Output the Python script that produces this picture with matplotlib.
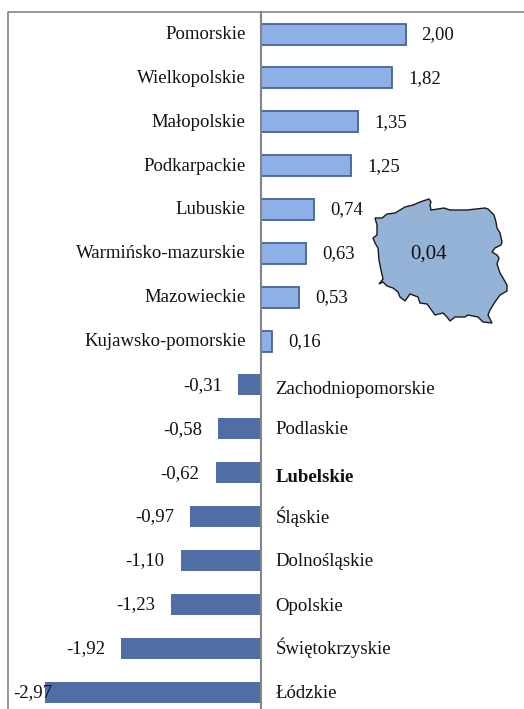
import matplotlib
matplotlib.use('Agg')
import matplotlib.pyplot as plt
from matplotlib.patches import Polygon

# Data
regions = ['Pomorskie', 'Wielkopolskie', 'Małopolskie', 'Podkarpackie', 'Lubuskie',
           'Warmińsko-mazurskie', 'Mazowieckie', 'Kujawsko-pomorskie', 'Zachodniopomorskie',
           'Podlaskie', 'Lubelskie', 'Śląskie', 'Dolnośląskie', 'Opolskie',
           'Świętokrzyskie', 'Łódzkie']
values = [2.00, 1.82, 1.35, 1.25, 0.74, 0.63, 0.53, 0.16, -0.31,
          -0.58, -0.62, -0.97, -1.10, -1.23, -1.92, -2.97]
bold_regions = ['Lubelskie']
poland_value = 0.04

# Outline of the map in pixels
map_x = [375, 382, 387, 395, 400, 405, 413, 420, 429, 431, 430, 431, 438, 444, 450, 467,
         485, 488, 494, 496, 497, 500, 502, 501, 495, 492, 497, 499, 497, 500, 503, 507,
         507, 500, 495, 490, 488, 492, 483, 478, 468, 465, 455, 450, 447, 443, 435, 430,
         427, 420, 418, 410, 405, 400, 398, 393, 387, 383, 379, 383, 381, 379, 378, 375,
         373, 377, 377]
map_y = [218, 218, 214, 213, 210, 207, 205, 202, 199, 202, 205, 210, 209, 208, 210, 210,
         208, 209, 215, 222, 228, 233, 242, 245, 248, 252, 255, 258, 264, 273, 278, 285,
         291, 295, 302, 310, 315, 323, 322, 317, 315, 317, 317, 321, 317, 313, 315, 308,
         304, 303, 297, 294, 301, 297, 292, 288, 286, 282, 284, 279, 270, 260, 248, 243,
         238, 235, 225]

W, H = 524, 709
plt.rcParams['font.family'] = ['Liberation Serif', 'DejaVu Serif']

fig = plt.figure(figsize=(W / 100, H / 100), dpi=100)
ax = fig.add_axes([0, 0, 1, 1])
ax.set_xlim(0, W)
ax.set_ylim(H, 0)
ax.axis('off')

# chart scale
x0 = 260.5
px_per_unit = 72.5
y_first = 34
row = 43.87
bar_h = 21
fs = 13.5
txt = '#111111'
# a few names are not lined up with their bars in the original
name_nudge = {'Zachodniopomorskie': 3, 'Podlaskie': -1, 'Lubelskie': 3, 'Opolskie': 1}

for i, (name, val) in enumerate(zip(regions, values)):
    y = y_first + i * row
    xv = x0 + val * px_per_unit
    label = f'{val:.2f}'.replace('.', ',')
    weight = 'bold' if name in bold_regions else 'normal'
    if val > 0:
        ax.barh(y, val * px_per_unit, left=x0, height=bar_h, color='#8EB0E6',
                edgecolor='#44639B', linewidth=1.3, zorder=2)
        ax.text(x0 - 15, y + 5, name, ha='right', va='baseline', fontsize=fs, color=txt, zorder=4)
        ax.text(xv + 16, y + 5, label, ha='left', va='baseline', fontsize=fs, color=txt, zorder=4)
    else:
        ax.barh(y, val * px_per_unit, left=x0, height=bar_h, color='#4F6EA6', linewidth=0, zorder=2)
        ax.text(x0 + 15, y + 6 + name_nudge.get(name, 0), name, ha='left', va='baseline',
                fontsize=fs, color=txt, fontweight=weight, zorder=4)
        # the longest bar has its label running over the bar end
        lx = xv + 7 if val < -2.5 else xv - 16
        ax.text(lx, y + 5, label, ha='right', va='baseline', fontsize=fs, color=txt, zorder=4)

# frame and axis line
ax.plot([x0, x0], [12, H], color='#868686', lw=1.5, zorder=3)
ax.plot([7.5, 7.5, W], [H, 12, 12], color='#868686', lw=1.2, zorder=3)

# Map of Poland
ax.add_patch(Polygon(list(zip(map_x, map_y)), closed=True, facecolor='#95B3D7',
                     edgecolor='#1a1a1a', linewidth=1, zorder=3))
ax.text(429, 254, f'{poland_value:.2f}'.replace('.', ','), ha='center', va='center',
        fontsize=15, color=txt, zorder=4)

fig.savefig('out.png', dpi=100)
